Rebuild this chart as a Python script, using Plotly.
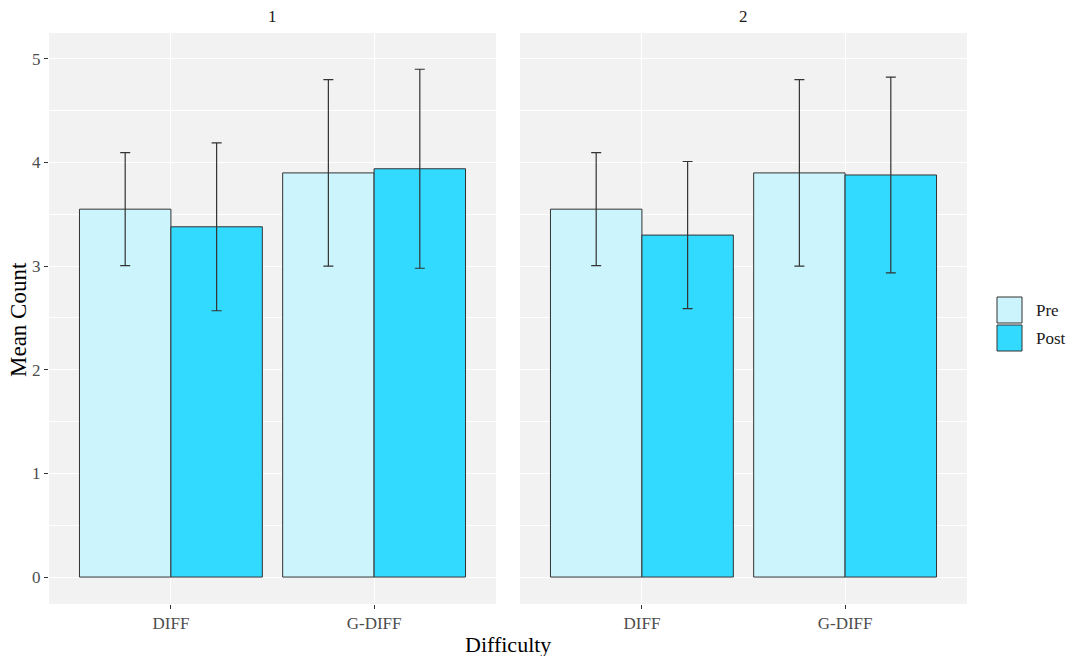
import plotly.graph_objects as go

# Mean counts and error half-widths by difficulty, session (facet) and phase
categories = ["DIFF", "G-DIFF"]
facets = ["1", "2"]

pre_mean_1 = [3.55, 3.90]
pre_err_1 = [0.545, 0.90]
post_mean_1 = [3.38, 3.94]
post_err_1 = [0.81, 0.96]

pre_mean_2 = [3.55, 3.90]
pre_err_2 = [0.545, 0.90]
post_mean_2 = [3.30, 3.88]
post_err_2 = [0.71, 0.945]

y_ticks = [0, 1, 2, 3, 4, 5]

PRE_COLOR = "#CCF4FC"
POST_COLOR = "#33DAFF"
OUTLINE = "#333333"
PANEL_BG = "#F2F2F2"
FONT = "Liberation Serif"
W, H = 1075, 656

# panel boxes in pixels: (left, right), shared top/bottom
panels = [(49, 496), (520, 967)]
top_px, bot_px = 33, 604

fig = go.Figure()

data = [
    (pre_mean_1, pre_err_1, post_mean_1, post_err_1),
    (pre_mean_2, pre_err_2, post_mean_2, post_err_2),
]

for i, (pm, pe, qm, qe) in enumerate(data):
    xa = "x" if i == 0 else "x2"
    ya = "y" if i == 0 else "y2"
    for name, means, errs, color in (("Pre", pm, pe, PRE_COLOR), ("Post", qm, qe, POST_COLOR)):
        fig.add_trace(go.Bar(
            x=categories, y=means, name=name, xaxis=xa, yaxis=ya,
            marker=dict(color=color, line=dict(color=OUTLINE, width=1)),
            error_y=dict(type="data", array=errs, visible=True,
                         color=OUTLINE, thickness=1.2, width=5),
            showlegend=False, offsetgroup=name,
        ))

def xdom(p):
    return [p[0] / W, p[1] / W]

ydom = [1 - bot_px / H, 1 - top_px / H]

axis_common = dict(
    showline=False, zeroline=False,
    gridcolor="white", gridwidth=1.2,
    tickfont=dict(family=FONT, size=17, color="#4D4D4D"),
    ticks="outside", ticklen=4, tickcolor="#333333", tickwidth=1,
)

yrange = [-0.26, 5.25]

fig.update_layout(
    width=W, height=H,
    margin=dict(l=0, r=0, t=0, b=0),
    paper_bgcolor="white", plot_bgcolor=PANEL_BG,
    barmode="group", bargap=0.1, bargroupgap=0,
    font=dict(family=FONT),
    xaxis=dict(domain=xdom(panels[0]), anchor="y", range=[-0.6, 1.6],
               type="category", **axis_common),
    xaxis2=dict(domain=xdom(panels[1]), anchor="y2", range=[-0.6, 1.6],
                type="category", **axis_common),
    yaxis=dict(domain=ydom, anchor="x", range=yrange, tickvals=y_ticks,
               minor=dict(dtick=0.5, tick0=0, showgrid=True, gridcolor="white",
                          gridwidth=0.6, ticks=""),
               **axis_common),
    yaxis2=dict(domain=ydom, anchor="x2", range=yrange, tickvals=y_ticks,
                showticklabels=False,
                minor=dict(dtick=0.5, tick0=0, showgrid=True, gridcolor="white",
                           gridwidth=0.6, ticks=""),
                **{**axis_common, "ticks": ""}),
)

annotations = []
# facet strip labels
for label, p in zip(facets, panels):
    annotations.append(dict(
        text=label, x=(p[0] + p[1]) / 2 / W, y=1 - 17 / H,
        xref="paper", yref="paper", showarrow=False,
        font=dict(family=FONT, size=17, color="#1A1A1A"),
        xanchor="center", yanchor="middle",
    ))
# axis titles
annotations.append(dict(
    text="Difficulty", x=508 / W, y=1 - 644 / H, xref="paper", yref="paper",
    showarrow=False, font=dict(family=FONT, size=22, color="black"),
    xanchor="center", yanchor="middle",
))
annotations.append(dict(
    text="Mean Count", x=18 / W, y=1 - 320 / H, xref="paper", yref="paper",
    showarrow=False, textangle=-90, font=dict(family=FONT, size=23, color="black"),
    xanchor="center", yanchor="middle",
))

# legend: keys and labels
legend_items = [("Pre", PRE_COLOR, 297), ("Post", POST_COLOR, 325)]
shapes = []
for name, color, ytop in legend_items:
    shapes.append(dict(
        type="rect", xref="paper", yref="paper",
        x0=997 / W, x1=1022 / W, y0=1 - (ytop + 26) / H, y1=1 - ytop / H,
        fillcolor=color, line=dict(color=OUTLINE, width=1),
    ))
    annotations.append(dict(
        text=name, x=1034 / W, y=1 - (ytop + 13) / H, xref="paper", yref="paper",
        showarrow=False, font=dict(family=FONT, size=17, color="#1A1A1A"),
        xanchor="left", yanchor="middle",
    ))

fig.update_layout(annotations=annotations, shapes=shapes)

fig.write_html("out.html")
